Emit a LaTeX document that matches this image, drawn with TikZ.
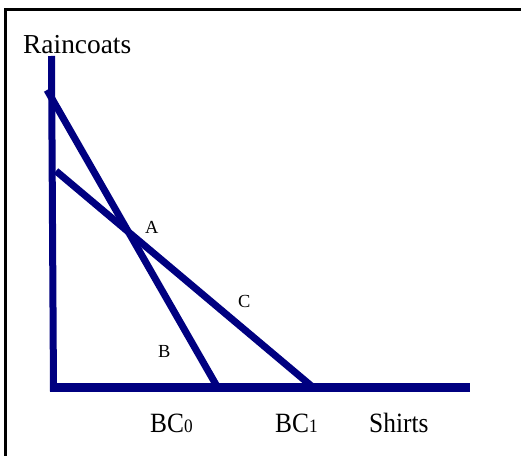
\documentclass[tikz,border=0pt]{standalone}
\usepackage{fontspec}
\setmainfont{Liberation Serif}
\definecolor{axisnavy}{RGB}{0,0,128}
\tikzset{
  curve/.style={draw=axisnavy, line width=7bp},
  axisline/.style={draw=axisnavy, line width=7bp},
  frameline/.style={draw=black, line width=2.5bp},
  biglabel/.style={inner sep=0pt, anchor=base west, font=\fontsize{28}{30}\selectfont},
  ptlabel/.style={inner sep=0pt, anchor=base west, font=\fontsize{18.5}{20}\selectfont},
}
\newcommand{\subdigit}[1]{{\fontsize{19}{20}\selectfont #1}}
\newcommand{\narrow}[1]{\scalebox{0.91}[1]{#1}}
\begin{document}
\begin{tikzpicture}[x=1bp, y=-1bp]
\useasboundingbox (0,0) rectangle (521,456);
% frame
\coordinate (fbl) at (5.5,456);
\coordinate (ftl) at (5.5,9.5);
\coordinate (ftr) at (521,9.5);
\draw[frameline] (fbl) -- (ftl) -- (ftr);
% axes
\coordinate (ytop) at (51.5,56);
\coordinate (origin) at (53.5,391.5);
\coordinate (xleft) at (50,387.5);
\coordinate (xright) at (470,387.5);
\draw[axisline] (ytop) -- (origin);
\draw[axisline, line width=8.5bp] (xleft) -- (xright);
% budget lines
\coordinate (bc0top) at (47,90);
\coordinate (bc0bot) at (218.5,389);
\coordinate (bc1top) at (56,171);
\coordinate (bc1bot) at (315,389);
\draw[curve] (bc0top) -- (bc0bot);
\draw[curve] (bc1top) -- (bc1bot);
% labels
\node[biglabel, font=\fontsize{27.5}{29}\selectfont] (rain) at (23,54) {Raincoats};
\node[biglabel] (bc0) at (150,432) {\narrow{BC\subdigit{0}}};
\node[biglabel] (bc1) at (275,432) {\narrow{BC\subdigit{1}}};
\node[biglabel] (shirts) at (369,432) {\narrow{Shirts}};
\node[ptlabel] (la) at (145,234) {A};
\node[ptlabel] (lc) at (238,307) {C};
\node[ptlabel] (lb) at (158,357) {B};
\end{tikzpicture}
\end{document}
